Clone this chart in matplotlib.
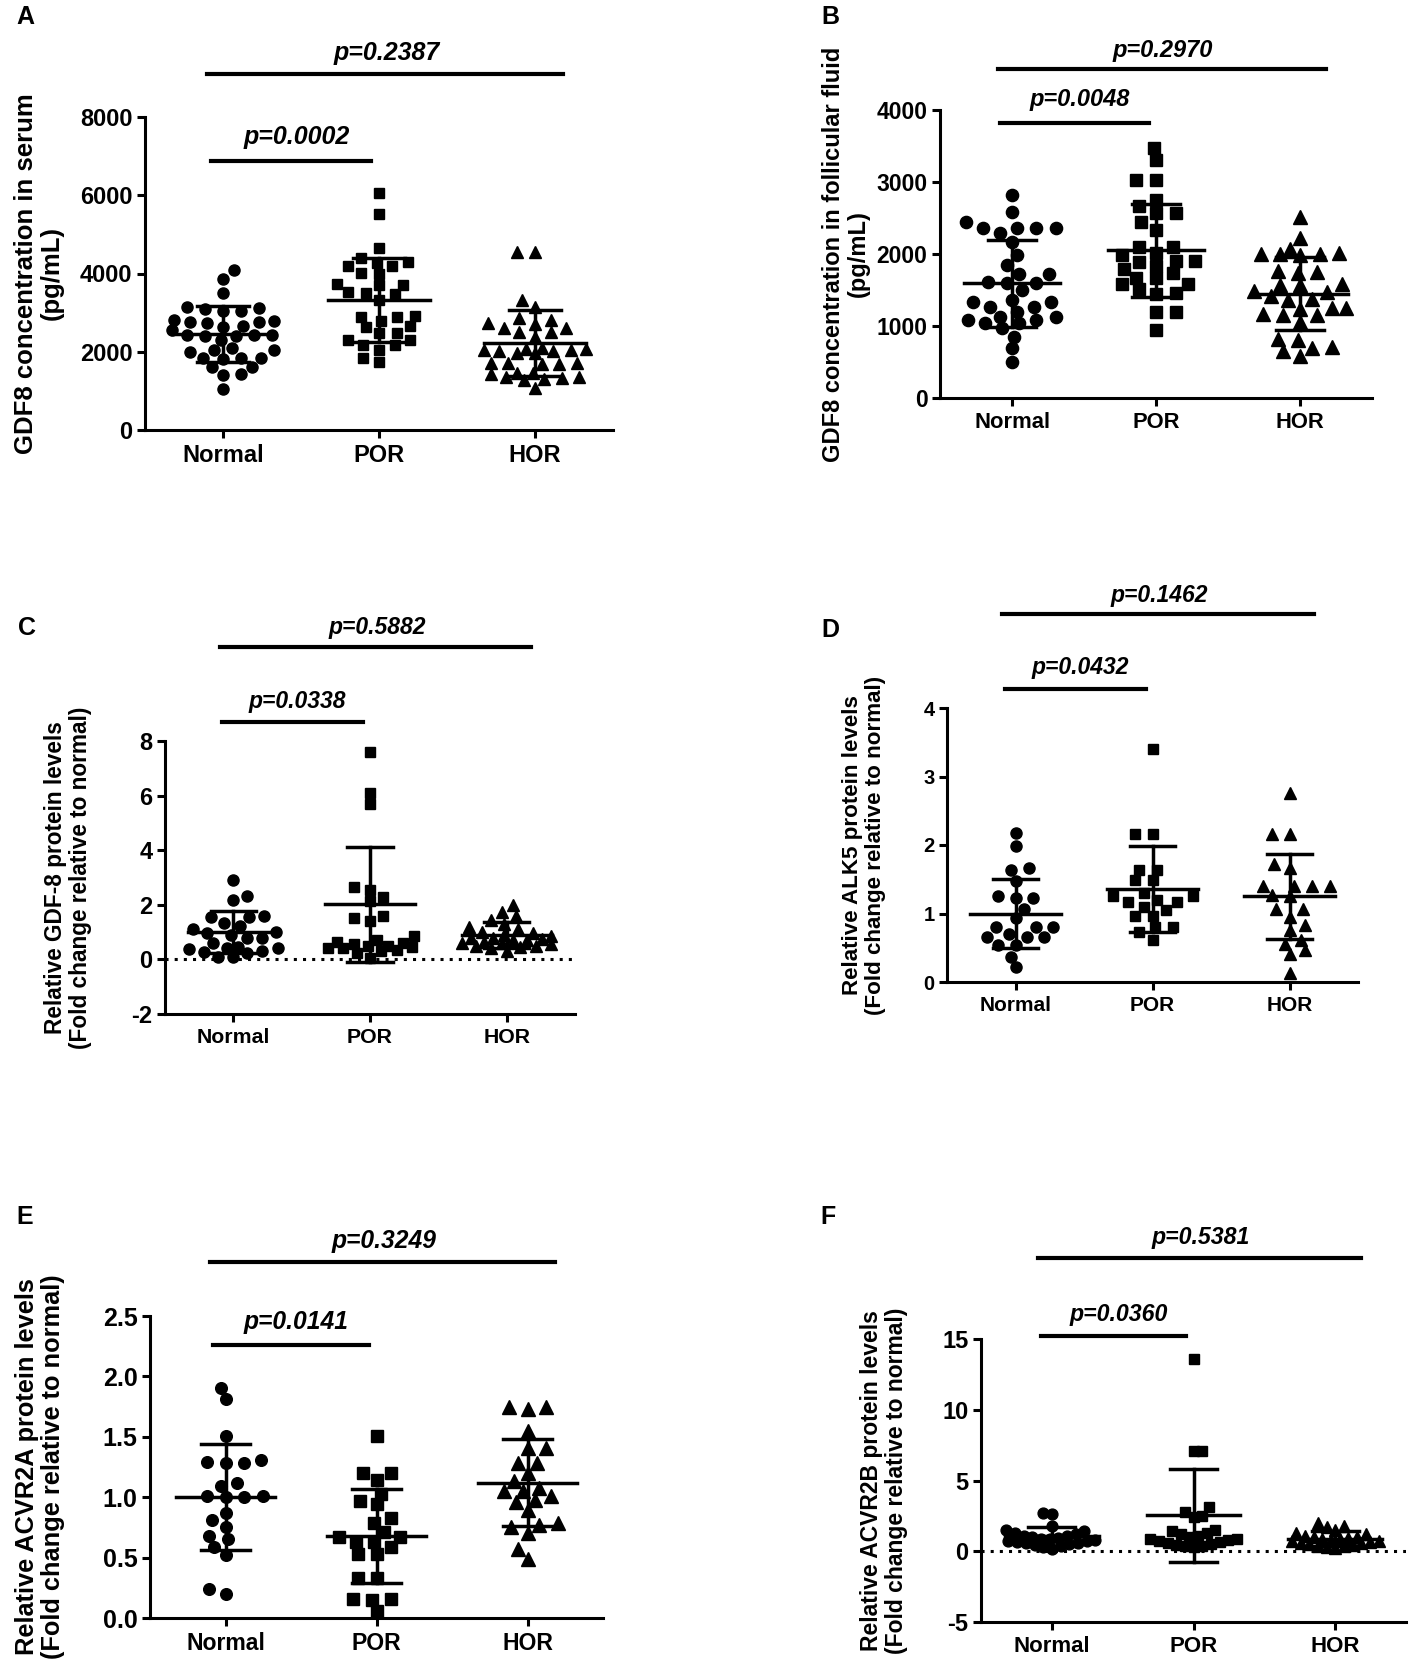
import numpy as np
import matplotlib
matplotlib.use('Agg')
import matplotlib.pyplot as plt

plt.rcParams['font.family'] = ['Liberation Sans', 'DejaVu Sans']
plt.rcParams['font.weight'] = 'bold'

groups = ['Normal', 'POR', 'HOR']

# A: GDF8 in serum (pg/mL)
a_normal = [4080, 3860, 3500, 3150, 3120, 3100, 3050, 3030, 2800, 2780, 2770, 2760, 2740,
            2650, 2640, 2560, 2440, 2430, 2420, 2410, 2400, 2300, 2100, 2050, 2040, 2000,
            1850, 1840, 1830, 1820, 1620, 1600, 1420, 1400, 1060]
a_por = [6050, 5520, 4650, 4400, 4300, 4270, 4200, 4180, 4020, 4000, 3720, 3710, 3700, 3520,
         3500, 3480, 3330, 2920, 2900, 2890, 2780, 2650, 2640, 2480, 2470, 2310, 2300, 2180,
         2170, 2050, 1850, 1750]
a_hor = [4550, 4550, 3320, 3150, 2870, 2820, 2740, 2720, 2610, 2600, 2510, 2500, 2380, 2100,
         2080, 2060, 2050, 2040, 2030, 2020, 1970, 1960, 1720, 1710, 1700, 1690, 1680, 1460,
         1450, 1440, 1360, 1350, 1340, 1300, 1290, 1070]
a_mean = [2450, 3330, 2230]
a_sd = [720, 1075, 840]
a_p = ['p=0.0002', 'p=0.2387']

# B: GDF8 in follicular fluid (pg/mL)
b_normal = [2820, 2590, 2450, 2360, 2360, 2360, 2360, 2290, 2170, 1990, 1850, 1720, 1720,
            1610, 1600, 1600, 1500, 1360, 1330, 1330, 1270, 1270, 1200, 1130, 1130, 1090,
            1090, 1040, 1040, 970, 850, 690, 500]
b_por = [3470, 3310, 3030, 3030, 2750, 2660, 2570, 2570, 2450, 2340, 2100, 2100, 2010, 1980,
         1900, 1900, 1890, 1830, 1790, 1740, 1670, 1660, 1580, 1580, 1510, 1460, 1450, 1200,
         1200, 940]
b_hor = [2520, 2220, 2070, 2020, 2000, 2000, 2000, 1990, 1760, 1750, 1730, 1580, 1570, 1570,
         1480, 1470, 1410, 1370, 1360, 1250, 1250, 1240, 1160, 1150, 1150, 1060, 820, 810,
         710, 700, 650, 580]
b_mean = [1595, 2050, 1450]
b_sd = [605, 650, 505]
b_p = ['p=0.0048', 'p=0.2970']

# C: relative GDF-8 protein
c_normal = [2.9, 2.32, 2.17, 1.6, 1.56, 1.56, 1.35, 1.22, 1.1, 1.0, 0.95, 0.9, 0.77, 0.77,
            0.59, 0.45, 0.4, 0.4, 0.38, 0.3, 0.28, 0.25, 0.1, 0.08]
c_por = [7.6, 6.1, 5.7, 2.65, 2.55, 2.3, 2.15, 1.6, 1.5, 1.4, 0.85, 0.7, 0.65, 0.6, 0.55,
         0.5, 0.5, 0.45, 0.4, 0.4, 0.35, 0.3, 0.25, 0.05]
c_hor = [2.0, 1.75, 1.6, 1.45, 1.3, 1.2, 1.1, 1.0, 0.95, 0.9, 0.85, 0.8, 0.8, 0.75, 0.7,
         0.7, 0.65, 0.6, 0.6, 0.55, 0.5, 0.5, 0.45, 0.4, 0.3]
c_mean = [1.01, 2.02, 0.89]
c_sd = [0.77, 2.1, 0.49]
c_p = ['p=0.0338', 'p=0.5882']

# D: relative ALK5 protein
d_normal = [2.17, 1.98, 1.66, 1.63, 1.48, 1.25, 1.22, 1.22, 1.07, 0.93, 0.8, 0.8, 0.8, 0.7,
            0.66, 0.66, 0.66, 0.54, 0.54, 0.37, 0.22]
d_por = [3.4, 2.16, 2.16, 1.64, 1.64, 1.49, 1.49, 1.3, 1.25, 1.25, 1.2, 1.17, 1.17, 1.1,
         1.05, 0.96, 0.96, 0.8, 0.8, 0.73, 0.62]
d_hor = [2.76, 2.16, 2.16, 1.72, 1.66, 1.4, 1.4, 1.4, 1.4, 1.27, 1.25, 1.06, 1.06, 0.95,
         0.83, 0.76, 0.62, 0.56, 0.47, 0.41, 0.13]
d_mean = [1.0, 1.36, 1.25]
d_sd = [0.51, 0.63, 0.62]
d_p = ['p=0.0432', 'p=0.1462']

# E: relative ACVR2A protein
e_normal = [1.90, 1.81, 1.51, 1.31, 1.29, 1.28, 1.28, 1.12, 1.09, 1.01, 1.01, 1.00, 1.00,
            0.87, 0.81, 0.75, 0.68, 0.65, 0.59, 0.52, 0.24, 0.20]
e_por = [1.51, 1.20, 1.20, 1.14, 1.03, 0.97, 0.94, 0.83, 0.79, 0.71, 0.67, 0.67, 0.63, 0.63,
         0.59, 0.53, 0.53, 0.33, 0.33, 0.16, 0.15, 0.16, 0.06]
e_hor = [1.75, 1.73, 1.75, 1.55, 1.41, 1.41, 1.28, 1.28, 1.20, 1.13, 1.08, 1.05, 1.05, 1.01,
         0.98, 0.96, 0.89, 0.79, 0.77, 0.75, 0.70, 0.57, 0.49]
e_mean = [1.0, 0.68, 1.12]
e_sd = [0.44, 0.39, 0.36]
e_p = ['p=0.0141', 'p=0.3249']

# F: relative ACVR2B protein
f_normal = [2.7, 2.6, 1.8, 1.5, 1.4, 1.3, 1.2, 1.1, 1.05, 1.0, 0.95, 0.9, 0.85, 0.8, 0.75,
            0.7, 0.65, 0.6, 0.55, 0.5, 0.45, 0.4, 0.3, 0.15]
f_por = [13.6, 7.1, 7.1, 3.1, 2.75, 2.5, 2.4, 1.5, 1.4, 1.3, 1.2, 1.1, 1.0, 0.9, 0.85, 0.8,
         0.7, 0.65, 0.6, 0.5, 0.45, 0.4, 0.35, 0.3]
f_hor = [2.0, 1.8, 1.7, 1.5, 1.3, 1.2, 1.1, 1.0, 1.0, 0.95, 0.9, 0.85, 0.8, 0.75, 0.7, 0.65,
         0.6, 0.55, 0.5, 0.45, 0.4, 0.35, 0.3, 0.25]
f_mean = [1.05, 2.53, 0.87]
f_sd = [0.66, 3.27, 0.53]
f_p = ['p=0.0360', 'p=0.5381']

W, H = 1418, 1678
fig = plt.figure(figsize=(W / 100, H / 100), dpi=100)
fig.patch.set_facecolor('white')

# layout in pixels: (x_left, x_right, y_top, y_bottom)
panels = [
    dict(tag='A', data=(a_normal, a_por, a_hor), mean=a_mean, sd=a_sd, p=a_p,
         px=(145, 613, 117, 430), ylim=(0, 8000), yticks=[0, 2000, 4000, 6000, 8000], fmt='{:.0f}',
         ylabel='GDF8 concentration in serum\n(pg/mL)', ylab_x=39, ylab_fs=18.5,
         tag_xy=(25, 17), ms=8.0, tick_fs=17, cat_fs=17, p_fs=18, hx=1.45,
         bars=(0.859, 0.936, 1.137, 1.204), zero=False),
    dict(tag='B', data=(b_normal, b_por, b_hor), mean=b_mean, sd=b_sd, p=b_p,
         px=(940, 1372, 110, 398), ylim=(0, 4000), yticks=[0, 1000, 2000, 3000, 4000], fmt='{:.0f}',
         ylabel='GDF8 concentration in follicular fluid\n(pg/mL)', ylab_x=846, ylab_fs=17,
         tag_xy=(830, 17), ms=8.8, tick_fs=16.5, cat_fs=15.8, p_fs=17, hx=1.45,
         bars=(0.955, 1.035, 1.142, 1.208), zero=False),
    dict(tag='C', data=(c_normal, c_por, c_hor), mean=c_mean, sd=c_sd, p=c_p,
         px=(165, 575, 741, 1014), ylim=(-2, 8), yticks=[-2, 0, 2, 4, 6, 8], fmt='{:.0f}',
         ylabel='Relative GDF-8 protein levels\n(Fold change relative to normal)', ylab_x=68, ylab_fs=16.3,
         tag_xy=(27, 628), ms=8.0, tick_fs=17, cat_fs=15.3, p_fs=16.5, hx=1.3,
         bars=(1.070, 1.143, 1.344, 1.414), zero=True),
    dict(tag='D', data=(d_normal, d_por, d_hor), mean=d_mean, sd=d_sd, p=d_p,
         px=(947, 1358, 708, 982), ylim=(0, 4), yticks=[0, 1, 2, 3, 4], fmt='{:.0f}',
         ylabel='Relative ALK5 protein levels\n(Fold change relative to normal)', ylab_x=864, ylab_fs=16.1,
         tag_xy=(830, 630), ms=8.0, tick_fs=14.5, cat_fs=15, p_fs=16.5, hx=1.45,
         bars=(1.069, 1.146, 1.343, 1.412), zero=False),
    dict(tag='E', data=(e_normal, e_por, e_hor), mean=e_mean, sd=e_sd, p=e_p,
         px=(150, 603, 1316, 1618), ylim=(0, 2.5), yticks=[0, 0.5, 1.0, 1.5, 2.0, 2.5], fmt='{:.1f}',
         ylabel='Relative ACVR2A protein levels\n(Fold change relative to normal)', ylab_x=40, ylab_fs=18.3,
         tag_xy=(25, 1217), ms=8.4, tick_fs=18, cat_fs=16.6, p_fs=17.7, hx=1.45,
         bars=(0.904, 0.980, 1.179, 1.248), zero=False),
    dict(tag='F', data=(f_normal, f_por, f_hor), mean=f_mean, sd=f_sd, p=f_p,
         px=(981, 1406, 1339, 1622), ylim=(-5, 15), yticks=[-5, 0, 5, 10, 15], fmt='{:.0f}',
         ylabel='Relative ACVR2B protein levels\n(Fold change relative to normal)', ylab_x=884, ylab_fs=16.5,
         tag_xy=(828, 1217), ms=7.8, tick_fs=17, cat_fs=16, p_fs=16.7, hx=0.8,
         bars=(1.011, 1.085, 1.286, 1.357), zero=True),
]

markers = ['o', 's', '^']


def swarm(vals, ppu_x, ppu_y, d_px, cap_px, hx=1.45, vy=0.95):
    # beeswarm with wider horizontal spacing (rows like GraphPad), width capped
    vals = np.asarray(vals, dtype=float)
    step = d_px * 0.2
    n_steps = int(cap_px / step)
    placed = []
    xs = np.zeros(len(vals))
    flip = 1
    for i in np.argsort(vals, kind='stable'):
        y = vals[i] * ppu_y
        cands = [0.0]
        for k in range(1, n_steps + 1):
            cands += [flip * k * step, -flip * k * step]
        flip = -flip
        best_c, best_d = 0.0, -1.0
        for c in cands:
            if placed:
                dmin = min(((c - px) / (hx * d_px)) ** 2 + ((y - py) / (vy * d_px)) ** 2
                           for px, py in placed)
            else:
                dmin = 10.0
            if dmin >= 1.0:
                best_c = c
                break
            if dmin > best_d:
                best_c, best_d = c, dmin
        placed.append((best_c, y))
        xs[i] = best_c / ppu_x
    return xs


for P in panels:
    x0, x1, yt, yb = P['px']
    ax = fig.add_axes([x0 / W, 1 - yb / H, (x1 - x0) / W, (yb - yt) / H])
    ax.set_xlim(-0.5, 2.5)
    ax.set_ylim(*P['ylim'])
    ppu_x = (x1 - x0) / 3.0
    ppu_y = (yb - yt) / (P['ylim'][1] - P['ylim'][0])

    if P['zero']:
        ax.axhline(0, color='black', lw=2.2, ls=(0, (1, 2)), zorder=1)

    for g, vals in enumerate(P['data']):
        mk = markers[g]
        ms = P['ms'] * (1.15 if mk == '^' else (0.95 if mk == 's' else 1.0))
        d_px = P['ms'] * 100 / 72
        offs = swarm(vals, ppu_x, ppu_y, d_px, 0.33 * ppu_x, hx=P['hx'])
        ax.plot(g + offs, vals, ls='none', marker=mk, ms=ms, color='black', mec='black',
                clip_on=False, zorder=3)
        m, s = P['mean'][g], P['sd'][g]
        ax.plot([g, g], [m - s, m + s], color='black', lw=2.5, zorder=4, clip_on=False)
        ax.plot([g - 0.165, g + 0.165], [m + s, m + s], color='black', lw=2.5, zorder=4, clip_on=False)
        ax.plot([g - 0.165, g + 0.165], [m - s, m - s], color='black', lw=2.5, zorder=4, clip_on=False)
        ax.plot([g - 0.33, g + 0.33], [m, m], color='black', lw=2.5, zorder=4, clip_on=False)

    # significance bars (x in data, y in axes fraction)
    tr = ax.get_xaxis_transform()
    y_short, t_short, y_long, t_long = P['bars']
    ax.plot([-0.08, 0.95], [y_short, y_short], color='black', lw=3, transform=tr, clip_on=False)
    ax.plot([-0.10, 2.18], [y_long, y_long], color='black', lw=3, transform=tr, clip_on=False)
    ax.text(0.47, t_short, P['p'][0], transform=tr, ha='center', va='center',
            fontsize=P['p_fs'], fontweight='bold', fontstyle='italic')
    ax.text(1.05, t_long, P['p'][1], transform=tr, ha='center', va='center',
            fontsize=P['p_fs'], fontweight='bold', fontstyle='italic')

    for sp in ['top', 'right']:
        ax.spines[sp].set_visible(False)
    for sp in ['left', 'bottom']:
        ax.spines[sp].set_linewidth(2.2)
    ax.set_xticks([0, 1, 2])
    ax.set_xticklabels(groups, fontsize=P['cat_fs'], fontweight='bold')
    ax.set_yticks(P['yticks'])
    ax.set_yticklabels([P['fmt'].format(v) for v in P['yticks']], fontsize=P['tick_fs'], fontweight='bold')
    ax.tick_params(axis='both', width=2.2, length=6, direction='out')
    ax.tick_params(axis='x', pad=4)
    ax.tick_params(axis='y', pad=3)
    ax.patch.set_alpha(0)

    fig.text(P['ylab_x'] / W, 1 - (yt + yb) / 2 / H, P['ylabel'], rotation=90, ha='center', va='center',
             multialignment='center', fontsize=P['ylab_fs'], fontweight='bold', linespacing=1.1)
    fig.text(P['tag_xy'][0] / W, 1 - P['tag_xy'][1] / H, P['tag'], ha='center', va='center',
             fontsize=18, fontweight='bold')

fig.savefig('out.png', dpi=100, facecolor='white')
